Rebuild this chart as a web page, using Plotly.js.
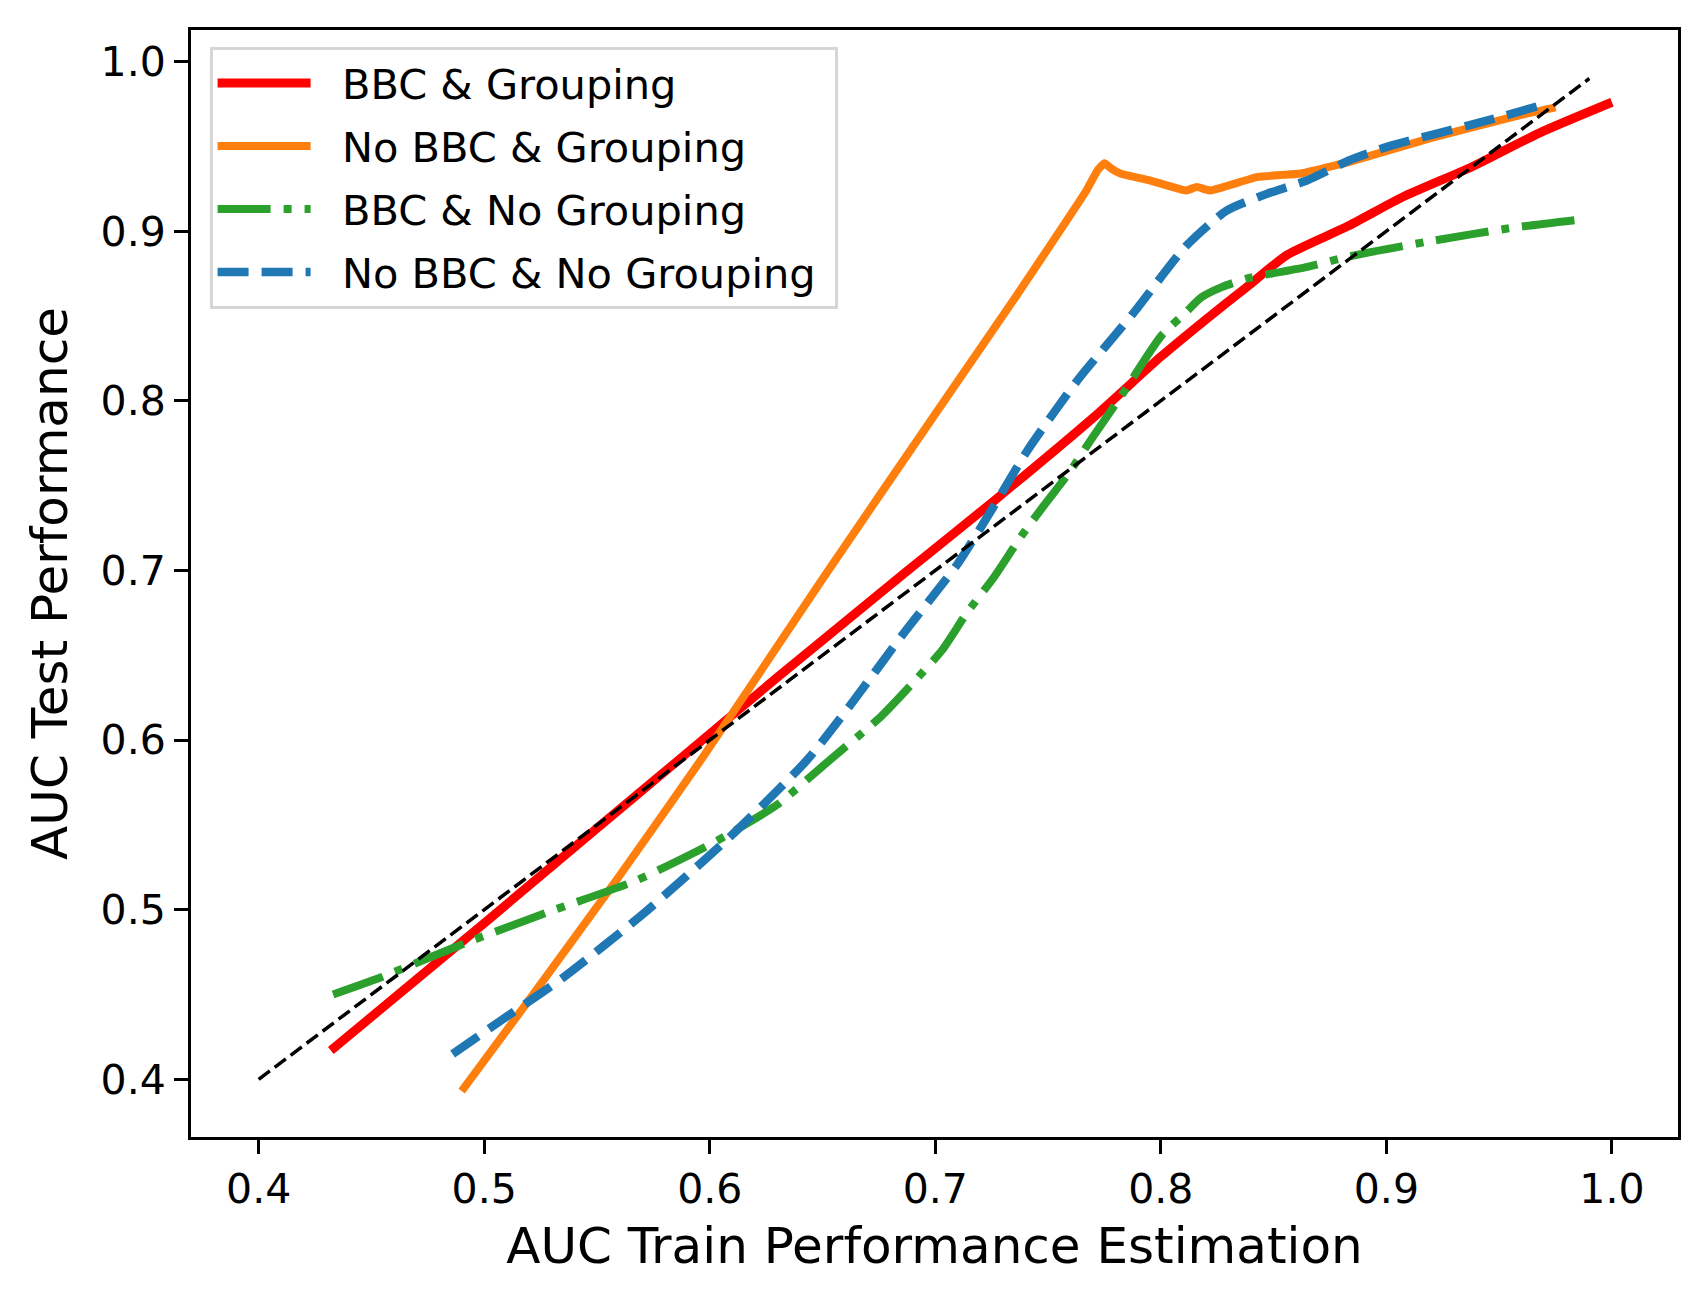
<!DOCTYPE html>
<html>
<head>
<meta charset="utf-8">
<script src="https://cdn.plot.ly/plotly-3.0.1.min.js"></script>
<style>
  html, body { margin: 0; padding: 0; background: #fff; }
  #plot { width: 1708px; height: 1304px; }
</style>
</head>
<body>
<div id="plot"></div>
<script>
// BBC & Grouping
const bbcGroupX = [0.432, 0.50, 0.55, 0.586, 0.63, 0.686, 0.726, 0.770, 0.800, 0.820, 0.838, 0.856, 0.883, 0.907, 0.938, 0.968, 1.000];
const bbcGroupY = [0.417, 0.492, 0.548, 0.588, 0.637, 0.698, 0.741, 0.790, 0.826, 0.848, 0.867, 0.886, 0.903, 0.920, 0.938, 0.958, 0.976];

// No BBC & Grouping
const noBbcGroupX = [0.490, 0.520, 0.560, 0.597, 0.650, 0.705, 0.736, 0.767, 0.772, 0.775, 0.778, 0.782, 0.795, 0.811, 0.816, 0.822, 0.843, 0.862, 0.884, 0.920, 0.958, 0.975];
const noBbcGroupY = [0.393, 0.447, 0.520, 0.590, 0.695, 0.802, 0.862, 0.924, 0.936, 0.940, 0.937, 0.934, 0.930, 0.924, 0.926, 0.924, 0.932, 0.934, 0.941, 0.955, 0.968, 0.973];

// BBC & No Grouping
const bbcNoGroupX = [0.433, 0.454, 0.491, 0.527, 0.567, 0.598, 0.609, 0.630, 0.653, 0.676, 0.691, 0.703, 0.714, 0.726, 0.738, 0.748, 0.759, 0.770, 0.782, 0.800, 0.811, 0.818, 0.827, 0.838, 0.865, 0.883, 0.919, 0.956, 0.987];
const bbcNoGroupY = [0.450, 0.460, 0.480, 0.498, 0.517, 0.537, 0.545, 0.562, 0.588, 0.614, 0.635, 0.653, 0.675, 0.696, 0.720, 0.738, 0.757, 0.779, 0.802, 0.838, 0.852, 0.861, 0.867, 0.872, 0.879, 0.885, 0.894, 0.902, 0.907];

// No BBC & No Grouping
const noBbcNoGroupX = [0.486, 0.510, 0.535, 0.570, 0.609, 0.643, 0.662, 0.686, 0.710, 0.726, 0.741, 0.763, 0.788, 0.811, 0.829, 0.847, 0.865, 0.884, 0.901, 0.947, 0.968];
const noBbcNoGroupY = [0.415, 0.437, 0.460, 0.497, 0.543, 0.588, 0.620, 0.663, 0.704, 0.738, 0.771, 0.812, 0.852, 0.891, 0.912, 0.922, 0.930, 0.942, 0.950, 0.966, 0.974];

// ideal calibration line
const diagX = [0.4, 0.99];
const diagY = [0.4, 0.99];

const xTicks = [0.4, 0.5, 0.6, 0.7, 0.8, 0.9, 1.0];
const yTicks = [0.4, 0.5, 0.6, 0.7, 0.8, 0.9, 1.0];

const FONT = 'DejaVu Sans, Liberation Sans, sans-serif';
// nbsp padding: plotly has no gap setting between legend symbol and text
const PAD = '\u00a0\u00a0';

let data = [
    {
        name: PAD + 'BBC & Grouping',
        x: bbcGroupX, y: bbcGroupY,
        mode: 'lines', legendgroup: 'a',
        line: {color: '#ff0000', width: 9, shape: 'spline', smoothing: 0.6},
    },
    {
        name: PAD + 'No BBC & Grouping',
        x: noBbcGroupX, y: noBbcGroupY,
        mode: 'lines', legendgroup: 'b',
        line: {color: '#ff7f0e', width: 8, shape: 'spline', smoothing: 0.4},
    },
    {
        name: PAD + 'BBC & No Grouping',
        x: bbcNoGroupX, y: bbcNoGroupY,
        mode: 'lines', legendgroup: 'c',
        line: {color: '#2ca02c', width: 8, dash: '53px,13px,8px,13px', shape: 'spline', smoothing: 0.6},
    },
    {
        name: PAD + 'No BBC & No Grouping\u00a0',
        x: noBbcNoGroupX, y: noBbcNoGroupY,
        mode: 'lines', legendgroup: 'd',
        line: {color: '#1f77b4', width: 8.5, dash: '31px,13px', shape: 'spline', smoothing: 0.6},
    },
    {
        name: 'ideal',
        x: diagX, y: diagY,
        mode: 'lines', showlegend: false, legendgroup: 'e',
        line: {color: '#000000', width: 3.5, dash: '14px,6px'},
    },
];

let axisCommon = {
    showline: true,
    mirror: true,
    linecolor: '#000',
    linewidth: 3,
    ticks: 'outside',
    ticklen: 14,
    tickwidth: 3,
    tickcolor: '#000',
    showgrid: false,
    zeroline: false,
    tickfont: {family: FONT, size: 41, color: '#000'},
    tickformat: '.1f',
};

let layout = {
    width: 1708,
    height: 1304,
    margin: {l: 191, r: 30, t: 30, b: 167},
    paper_bgcolor: '#fff',
    plot_bgcolor: '#fff',
    font: {family: FONT, color: '#000'},
    showlegend: true,
    xaxis: Object.assign({}, axisCommon, {
        range: [0.37, 1.0293],
        tickvals: xTicks,
        title: {text: 'AUC Train Performance Estimation', font: {family: FONT, size: 50}, standoff: 16},
    }),
    yaxis: Object.assign({}, axisCommon, {
        range: [0.366, 1.0186],
        tickvals: yTicks,
        title: {text: 'AUC Test Performance', font: {family: FONT, size: 50}, standoff: 18},
    }),
    legend: {
        x: 0.0125,
        y: 0.985,
        xanchor: 'left',
        yanchor: 'top',
        bgcolor: 'rgba(255,255,255,0.8)',
        bordercolor: '#d6d6d6',
        borderwidth: 3,
        font: {family: FONT, size: 41.5, color: '#000'},
        traceorder: 'grouped',
        tracegroupgap: 6,
        itemwidth: 93,
    },
};

Plotly.newPlot('plot', data, layout, {displayModeBar: false, staticPlot: true});
</script>
</body>
</html>
